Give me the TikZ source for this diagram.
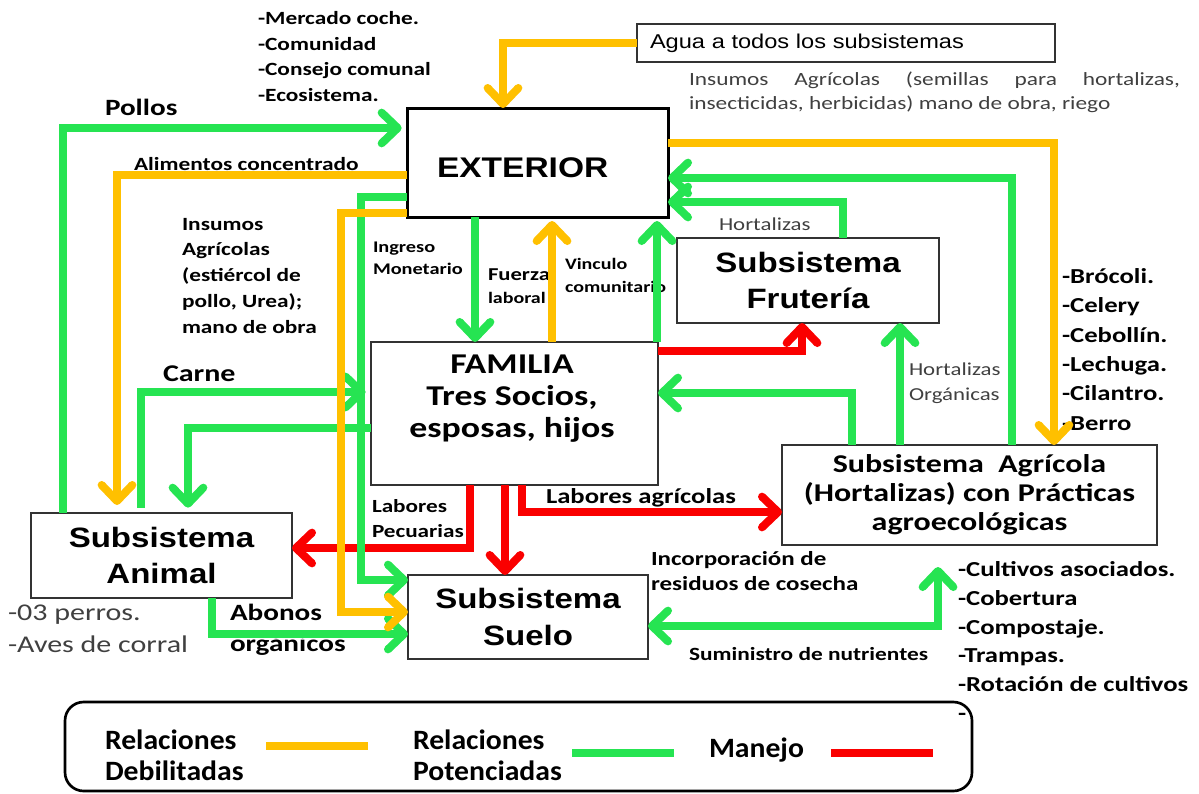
\documentclass[tikz,border=0pt]{standalone}
\usepackage{fontspec}
\setmainfont[FakeStretch=1.25]{Carlito}
\newfontfamily\arialw[FakeStretch=1.18]{Liberation Sans}
\newfontfamily\legf[FakeStretch=1.06]{Carlito}
\usetikzlibrary{arrows.meta}
\definecolor{cyel}{RGB}{255,192,0}
\definecolor{cgrn}{RGB}{38,228,82}
\definecolor{cred}{RGB}{250,0,0}
\definecolor{cgray}{RGB}{64,64,64}
\newcommand\fsz[2]{\fontsize{#1}{#2}\selectfont}
\begin{document}
\begin{tikzpicture}[x=0.75pt,y=-0.75pt,
 box/.style={draw=black!80, line width=1.1pt, inner sep=0pt, outer sep=0pt},
 lab/.style={anchor=base west, inner sep=0pt, outer sep=0pt, align=left},
 conn/.style={line width=6pt},
 yel/.style={conn, draw=cyel},
 grn/.style={conn, draw=cgrn},
 rd/.style={conn, draw=cred},
 arr/.style={-{Straight Barb[round,length=12pt,width=23pt]}},
 darr/.style={{Straight Barb[round,length=12pt,width=23pt]}-{Straight Barb[round,length=12pt,width=23pt]}},
 ttl/.style={font=\arialw\bfseries\fsz{21pt}{27.5pt}, align=center},
]
\useasboundingbox (0,0) rectangle (1199,793);

% ---------- boxes ----------
\node[box, line width=2.25pt, draw=black, minimum width=195.75pt, minimum height=81.75pt] (ext) at (537.5,162.5) {};
\node[lab, font=\arialw\bfseries\fsz{21.3pt}{26pt}] (extt) at (437,177) {EXTERIOR};
\node[box, minimum width=313.5pt, minimum height=28.5pt, text width=294pt, inner xsep=9.75pt, align=left, font=\arialw\fsz{15pt}{18pt}] (agua) at (846,43) {Agua a todos los subsistemas};
\node[box, ttl, minimum width=196.5pt, minimum height=63.75pt] (fru) at (808,280.5) {Subsistema\\Frutería};
\node[box, minimum width=215.25pt, minimum height=107.25pt] (fam) at (514.5,413.5) {};
\node[font=\bfseries\fsz{21.5pt}{24pt}, align=center, anchor=base, inner sep=0pt] (famt) at (512,437) {FAMILIA\\Tres Socios,\\esposas, hijos};
\node[box, ttl, minimum width=195.75pt, minimum height=63.75pt] (ani) at (161.5,555.5) {Subsistema\\Animal};
\node[box, ttl, minimum width=180pt, minimum height=63pt] (sue) at (528,617) {Subsistema\\Suelo};
\node[box, minimum width=281.25pt, minimum height=75pt, align=center, font=\bfseries\fsz{19.2pt}{21.75pt}] (agr) at (969.5,495) {Subsistema\ \ Agrícola\\(Hortalizas) con Prácticas\\agroecológicas};

% ---------- labels (base anchor = last line) ----------
\node[lab, font=\bfseries\fsz{14pt}{19.1pt}] (merc) at (258,101) {-Mercado coche.\\-Comunidad\\-Consejo comunal\\-Ecosistema.};
\node[lab, font=\bfseries\fsz{17.5pt}{20pt}] (pollos) at (105,115) {Pollos};
\node[lab, font=\bfseries\fsz{14pt}{18pt}] (alim) at (134,170) {Alimentos concentrado};
\node[lab, font=\bfseries\fsz{14pt}{19.3pt}] (insl) at (182,333) {Insumos\\Agrícolas\\(estiércol de\\pollo, Urea);\\mano de obra};
\node[lab, font=\bfseries\fsz{12.2pt}{16.5pt}] (ingr) at (373,274) {Ingreso\\Monetario};
\node[lab, font=\bfseries\fsz{13.6pt}{17.25pt}] (fuer) at (488,303) {Fuerza\\{\fsz{12pt}{17.25pt}laboral}};
\node[lab, font=\bfseries\fsz{12pt}{17.25pt}] (vinc) at (565,292) {Vinculo\\comunitario};
\node[lab, font=\fsz{13.7pt}{18pt}, text=cgray] (hort1) at (719,230) {Hortalizas};
\node[lab, font=\fsz{13.7pt}{18.75pt}, text=cgray] (hort2) at (909,400) {Hortalizas\\Orgánicas};
\node[lab, font=\fsz{14pt}{18pt}, text=cgray, text width=368.25pt, align=justify] (insr) at (689,85) {Insumos Agrícolas (semillas para hortalizas,\linebreak insecticidas, herbicidas) mano de obra, riego};
\node[lab, font=\bfseries\fsz{16pt}{22pt}] (veg) at (1062,430) {-Brócoli.\\-Celery\\-Cebollín.\\-Lechuga.\\-Cilantro.\\-Berro};
\node[lab, font=\bfseries\fsz{18pt}{20pt}] (carne) at (163,381) {Carne};
\node[lab, font=\bfseries\fsz{13.9pt}{18.75pt}] (labp) at (372,537) {Labores\\Pecuarias};
\node[lab, font=\bfseries\fsz{16pt}{18pt}] (laba) at (546,503) {Labores agrícolas};
\node[lab, font=\bfseries\fsz{15pt}{18.75pt}] (inco) at (651,590) {Incorporación de\\residuos de cosecha};
\node[lab, font=\bfseries\fsz{14pt}{18pt}] (sumi) at (689,660) {Suministro de nutrientes};
\node[lab, font=\bfseries\fsz{16pt}{21.5pt}] (prac) at (958,720) {-Cultivos asociados.\\-Cobertura\\-Compostaje.\\-Trampas.\\-Rotación de cultivos\\-};
\node[lab, font=\fsz{18pt}{24pt}, text=cgray] (perr) at (8,652) {-03 perros.\\-Aves de corral};
\node[lab, font=\bfseries\fsz{17.5pt}{23.25pt}] (abon) at (230,651) {Abonos\\orgánicos};

% ---------- red connectors ----------
\draw[rd, arr] (fam.east |- 0,351) -| (802,0 |- fru.south);
\draw[rd, arr] (470,0 |- fam.south) |- (ani.east |- 0,548);
\draw[rd, arr] (505,0 |- fam.south) -- (505,0 |- sue.north);
\draw[rd, arr] (522,0 |- fam.south) |- (agr.west |- 0,512);

% ---------- green connectors ----------
\draw[grn, arr, shorten >=4pt] (63,0 |- ani.north) |- (ext.west |- 0,128);
\draw[grn, arr] (ext.west |- 0,197) -| (361,580) -- (sue.west |- 0,580);
\draw[grn, arr] (475,0 |- ext.south) -- (475,0 |- fam.north);
\draw[grn, arr, shorten >=3pt] (657,0 |- fam.north) -- (657,0 |- ext.south);
\draw[grn, arr] (1012,0 |- agr.north) |- (ext.east |- 0,178);
\draw[grn, arr] (843,0 |- fru.north) |- (ext.east |- 0,202);
\draw[grn, arr] (900,0 |- agr.north) -- (900,0 |- fru.south);
\draw[grn, arr] (852,0 |- agr.north) |- (fam.east |- 0,393);
\draw[grn, arr, shorten <=4pt, shorten >=4pt] (141,0 |- ani.north) |- (fam.west |- 0,392);
\draw[grn, arr, shorten >=4pt] (fam.west |- 0,428) -| (188,0 |- ani.north);
\draw[grn, arr] (212,0 |- ani.south) |- (sue.west |- 0,634);
\coordinate (agrtip) at (938,567);
\draw[grn, darr] (sue.east |- 0,626) -| (agrtip);

% ---------- yellow connectors ----------
\draw[yel, arr] (agua.west) -| (503,0 |- ext.north);
\draw[yel, arr, shorten >=6pt] (ext.west |- 0,175) -| (117,0 |- ani.north);
\draw[yel, arr] (ext.west |- 0,213) -| (341,612) -- (sue.west |- 0,612);
\draw[yel, arr, shorten >=3pt] (552,0 |- fam.north) -- (552,0 |- ext.south);
\draw[yel, arr] (ext.east |- 0,143) -| (1054,0 |- agr.north);

% ---------- legend ----------
\node[draw=black, line width=2pt, rounded corners=14pt, minimum width=680.25pt, minimum height=66.75pt, inner sep=0pt] (leg) at (518.5,746.5) {};
\node[lab, font=\legf\bfseries\fsz{21pt}{23.25pt}] (ld) at (105,780) {Relaciones\\Debilitadas};
\node[lab, font=\legf\bfseries\fsz{21pt}{23.25pt}] (lp) at (413,780) {Relaciones\\Potenciadas};
\node[lab, font=\legf\bfseries\fsz{21pt}{23.25pt}] (lm) at (709,757) {Manejo};
\coordinate (ly1) at (266,746); \coordinate (ly2) at (368,746);
\coordinate (lg1) at (572,753); \coordinate (lg2) at (674,753);
\coordinate (lr1) at (831,753); \coordinate (lr2) at (933,753);
\draw[yel] (ly1) -- (ly2);
\draw[grn] (lg1) -- (lg2);
\draw[rd] (lr1) -- (lr2);
\end{tikzpicture}
\end{document}
